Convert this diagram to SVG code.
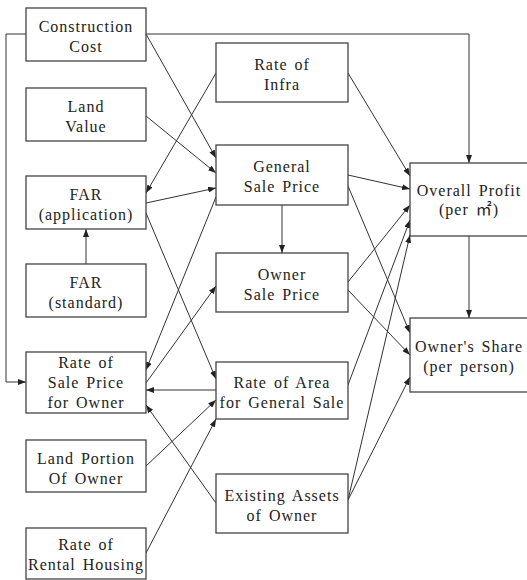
<svg xmlns="http://www.w3.org/2000/svg" width="527" height="580" viewBox="0 0 527 580">
<defs>
<marker id="ah" markerUnits="userSpaceOnUse" markerWidth="8" markerHeight="6" refX="8" refY="3" orient="auto">
<path d="M0,0 L8,3 L0,6 z" fill="#222"/>
</marker>
<style>
.box{fill:#fff;stroke:#444;stroke-width:1.3}
text{font-size:16px;letter-spacing:1px;word-spacing:2px;text-anchor:middle;fill:#222}
.c path{fill:none;stroke:#333;stroke-width:1;marker-end:url(#ah)}
</style>
</defs>
<rect width="527" height="580" fill="#fff"/>
<g class="c" id="connectors">
<path d="M146,34 L216,158"/>
<path d="M146,116 L216,173"/>
<path d="M216,73 L146,193"/>
<path d="M146,203 L216,188"/>
<path d="M146,213 L216,379"/>
<path d="M216,197 L146,370"/>
<path d="M146,383 L216,286"/>
<path d="M86,264 L86,229"/>
<path d="M216,390 L146,390"/>
<path d="M146,466 L216,400"/>
<path d="M146,553 L216,419"/>
<path d="M216,503 L146,405"/>
<path d="M348,73 L410,176"/>
<path d="M348,175 L410,189"/>
<path d="M348,186 L410,333"/>
<path d="M282,205 L282,253"/>
<path d="M348,282 L410,205"/>
<path d="M348,290 L410,355"/>
<path d="M348,385 L410,220"/>
<path d="M348,500 L410,235"/>
<path d="M348,500 L410,377"/>
<path d="M469,236 L469,318"/>
<path d="M146,34 L469,34 L469,163"/>
<path d="M26,34 L6,34 L6,382 L26,382"/>
</g>
<g font-family="Liberation Serif, Noto Sans CJK KR, serif">
<g id="construction-cost"><rect class="box" x="26" y="8" width="120" height="53"/><text x="86" y="32">Construction</text><text x="86" y="52">Cost</text></g>
<g id="land-value"><rect class="box" x="26" y="88" width="120" height="53"/><text x="86" y="112">Land</text><text x="86" y="132">Value</text></g>
<g id="far-application"><rect class="box" x="26" y="176" width="120" height="53"/><text x="86" y="200">FAR</text><text x="86" y="220">(application)</text></g>
<g id="far-standard"><rect class="box" x="26" y="264" width="120" height="53"/><text x="86" y="288">FAR</text><text x="86" y="308">(standard)</text></g>
<g id="rate-sale-price-owner"><rect class="box" x="26" y="352" width="120" height="61"/><text x="86" y="368">Rate of</text><text x="86" y="388">Sale Price</text><text x="86" y="408">for Owner</text></g>
<g id="land-portion-owner"><rect class="box" x="26" y="440" width="120" height="52"/><text x="86" y="464">Land Portion</text><text x="86" y="484">Of Owner</text></g>
<g id="rate-rental-housing"><rect class="box" x="26" y="528" width="120" height="51"/><text x="86" y="550">Rate of</text><text x="86" y="570">Rental Housing</text></g>
<g id="rate-infra"><rect class="box" x="216" y="43" width="132" height="59"/><text x="282" y="70">Rate of</text><text x="282" y="90">Infra</text></g>
<g id="general-sale-price"><rect class="box" x="216" y="145" width="132" height="60"/><text x="282" y="172">General</text><text x="282" y="192">Sale Price</text></g>
<g id="owner-sale-price"><rect class="box" x="216" y="253" width="132" height="59"/><text x="282" y="280">Owner</text><text x="282" y="300">Sale Price</text></g>
<g id="rate-area-general-sale"><rect class="box" x="216" y="362" width="132" height="57"/><text x="282" y="388">Rate of Area</text><text x="282" y="408">for General Sale</text></g>
<g id="existing-assets"><rect class="box" x="216" y="474" width="132" height="59"/><text x="282" y="501">Existing Assets</text><text x="282" y="521">of Owner</text></g>
<g id="overall-profit"><rect class="box" x="410" y="163" width="125" height="73"/><text x="469" y="196">Overall Profit</text><text x="469" y="215">(per ㎡)</text></g>
<g id="owners-share"><rect class="box" x="410" y="318" width="125" height="74"/><text x="469" y="352">Owner's Share</text><text x="469" y="372">(per person)</text></g>
</g>
</svg>
